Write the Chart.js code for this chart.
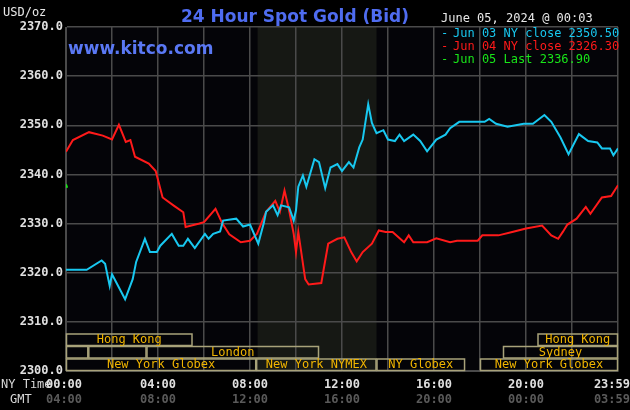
<!DOCTYPE html>
<html>
<head>
<meta charset="utf-8">
<script src="https://cdn.jsdelivr.net/npm/chart.js@4"></script>
<style>
  html, body { margin: 0; padding: 0; background: #000; }
  #wrap { width: 630px; height: 410px; position: relative; }
</style>
</head>
<body>
<div id="wrap"><canvas id="goldChart" width="630" height="410"></canvas></div>
<script>

// hours since 00:00 NY time, and bid prices
const jun03Hours = [0, 0.9, 1.55, 1.7, 1.9, 2.0, 2.57, 2.9, 3.05, 3.43, 3.65, 3.95, 4.1, 4.6, 4.9, 5.1, 5.3, 5.6, 6.04, 6.2, 6.4, 6.7, 6.83, 7.4, 7.7, 8.0, 8.36, 8.6, 8.7, 9.0, 9.2, 9.35, 9.7, 9.9, 10.0, 10.1, 10.3, 10.45, 10.8, 11.0, 11.27, 11.5, 11.8, 12.0, 12.3, 12.5, 12.75, 12.9, 13.14, 13.3, 13.5, 13.8, 14.0, 14.3, 14.5, 14.7, 15.1, 15.4, 15.7, 16.1, 16.5, 16.7, 17.1, 18.2, 18.4, 18.7, 19.2, 19.9, 20.3, 20.8, 21.1, 21.5, 21.85, 22.3, 22.7, 23.1, 23.3, 23.65, 23.8, 24.0];
const jun03Values = [2320.6, 2320.6, 2322.5, 2321.8, 2317.3, 2319.7, 2314.6, 2318.7, 2322.2, 2326.9, 2324.2, 2324.2, 2325.5, 2327.9, 2325.5, 2325.5, 2326.9, 2325.0, 2327.9, 2326.9, 2327.9, 2328.4, 2330.6, 2331.0, 2329.4, 2329.8, 2325.9, 2330.1, 2332.4, 2333.7, 2331.7, 2333.7, 2333.3, 2330.6, 2332.7, 2337.5, 2339.8, 2337.5, 2343.1, 2342.5, 2337.2, 2341.4, 2342.1, 2340.7, 2342.5, 2341.4, 2345.5, 2347.1, 2354.3, 2350.5, 2348.4, 2349.0, 2347.1, 2346.8, 2348.1, 2346.8, 2348.1, 2346.8, 2344.7, 2347.1, 2348.1, 2349.4, 2350.7, 2350.7, 2351.3, 2350.3, 2349.7, 2350.3, 2350.3, 2352.1, 2350.7, 2347.5, 2344.1, 2348.2, 2346.8, 2346.5, 2345.3, 2345.3, 2343.9, 2345.3];

const jun04Hours = [0, 0.3, 1.0, 1.6, 2.0, 2.3, 2.6, 2.8, 3.0, 3.6, 3.9, 4.2, 4.7, 5.1, 5.2, 5.8, 6.0, 6.5, 6.8, 7.1, 7.6, 8.0, 8.3, 8.45, 8.7, 9.1, 9.3, 9.5, 9.7, 9.9, 10.0, 10.1, 10.4, 10.55, 11.1, 11.2, 11.4, 11.8, 12.1, 12.4, 12.64, 12.9, 13.3, 13.6, 13.9, 14.2, 14.7, 14.9, 15.1, 15.7, 16.1, 16.7, 17.0, 17.9, 18.1, 18.8, 19.4, 20.0, 20.7, 21.1, 21.4, 21.6, 21.8, 22.2, 22.6, 22.8, 23.3, 23.7, 24.0];
const jun04Values = [2344.6, 2347.0, 2348.6, 2347.9, 2347.1, 2350.1, 2346.6, 2347.0, 2343.6, 2342.2, 2340.7, 2335.3, 2333.6, 2332.3, 2329.3, 2330.0, 2330.3, 2333.0, 2330.0, 2327.8, 2326.2, 2326.5, 2327.9, 2329.6, 2332.4, 2334.6, 2332.4, 2336.7, 2332.7, 2327.9, 2324.2, 2328.3, 2318.7, 2317.6, 2317.9, 2320.6, 2325.9, 2326.9, 2327.2, 2324.2, 2322.3, 2324.2, 2325.9, 2328.6, 2328.3, 2328.3, 2326.2, 2327.6, 2326.2, 2326.2, 2327.0, 2326.2, 2326.5, 2326.5, 2327.6, 2327.6, 2328.3, 2329.0, 2329.6, 2327.6, 2326.9, 2328.3, 2329.8, 2331.0, 2333.4, 2332.0, 2335.3, 2335.6, 2337.8];

const jun05Hours = [0, 0.05];
const jun05Values = [2338.0, 2337.3];

const legendLabels = ['Jun 03 NY close 2350.50', 'Jun 04 NY close 2326.30', 'Jun 05 Last 2336.90'];
const nyTimeLabels = ['00:00', '04:00', '08:00', '12:00', '16:00', '20:00', '23:59'];
const gmtLabels = ['04:00', '08:00', '12:00', '16:00', '20:00', '00:00', '03:59'];
const labelHours = [0, 4, 8, 12, 16, 20, 24];

// trading sessions: [row, start hour, end hour, name]
const sessions = [
  [0, 0, 5.5, 'Hong Kong'],
  [0, 20.5, 24, 'Hong Kong'],
  [1, 0, 0.97, ''],
  [1, 0.97, 3.5, ''],
  [1, 3.5, 11, 'London'],
  [1, 19, 24, 'Sydney'],
  [2, 0, 8.27, 'New York Globex'],
  [2, 8.27, 13.5, 'New York NYMEX'],
  [2, 13.5, 17.35, 'NY Globex'],
  [2, 18, 24, 'New York Globex']
];
const nymexShade = [8.33, 13.5];

function toPoints(xs, ys) {
  return xs.map((x, i) => ({ x: x, y: ys[i] }));
}

const MONO = '"DejaVu Sans Mono", monospace';

// background + NYMEX shading
const backdrop = {
  id: 'backdrop',
  beforeDraw(chart) {
    const ctx = chart.ctx;
    const a = chart.chartArea;
    const xs = chart.scales.x;
    ctx.save();
    ctx.fillStyle = '#000';
    ctx.fillRect(0, 0, chart.width, chart.height);
    ctx.fillStyle = '#040408';
    ctx.fillRect(a.left, a.top, a.right - a.left, a.bottom - a.top);
    const x1 = xs.getPixelForValue(nymexShade[0]);
    const x2 = xs.getPixelForValue(nymexShade[1]);
    ctx.fillStyle = '#161814';
    ctx.fillRect(x1, a.top, x2 - x1, a.bottom - a.top);
    ctx.restore();
  }
};

// texts, session boxes and time labels
const overlay = {
  id: 'overlay',
  afterDraw(chart) {
    const ctx = chart.ctx;
    const xs = chart.scales.x;
    const ys = chart.scales.y;
    ctx.save();

    // session boxes in the bottom band
    const rowBottom = ys.getPixelForValue(2300);
    const rowH = 12.5;
    sessions.forEach((s) => {
      const top = rowBottom - (3 - s[0]) * rowH;
      const x1 = xs.getPixelForValue(s[1]);
      const x2 = xs.getPixelForValue(s[2]);
      ctx.strokeStyle = '#a8a27a';
      ctx.lineWidth = 1.5;
      ctx.strokeRect(x1 + 0.5, top + 0.5, x2 - x1 - 1, rowH - 1);
      if (s[3]) {
        ctx.fillStyle = '#f0b400';
        ctx.font = '12px ' + MONO;
        ctx.textAlign = 'center';
        ctx.textBaseline = 'middle';
        ctx.fillText(s[3], (x1 + x2) / 2, top + rowH / 2 + 0.5);
      }
    });

    // title + headers
    ctx.textBaseline = 'alphabetic';
    ctx.textAlign = 'center';
    ctx.fillStyle = '#4f6cf0';
    ctx.font = 'bold 17px "DejaVu Sans", sans-serif';
    ctx.fillText('24 Hour Spot Gold (Bid)', 295, 22);
    ctx.textAlign = 'left';
    ctx.font = 'bold 17px "DejaVu Sans", sans-serif';
    ctx.fillStyle = '#5a78f4';
    ctx.fillText('www.kitco.com', 68, 54);
    ctx.font = '12px ' + MONO;
    ctx.fillStyle = '#e8e8e8';
    ctx.fillText('USD/oz', 3, 16);
    ctx.fillText('June 05, 2024 @ 00:03', 441, 22);

    // legend
    const colors = ['#18c8f0', '#ff1a1a', '#19e619'];
    legendLabels.forEach((t, i) => {
      ctx.fillStyle = colors[i];
      ctx.fillText('-', 441, 37 + i * 13);
      ctx.fillText(t, 453, 37 + i * 13);
    });

    // time labels
    ctx.font = 'bold 12px ' + MONO;
    ctx.fillStyle = '#d8d8d8';
    ctx.font = '12px ' + MONO;
    ctx.fillText('NY Time', 1, 388);
    ctx.fillText('GMT', 10, 403);
    labelHours.forEach((h, i) => {
      const x = xs.getPixelForValue(h);
      ctx.textAlign = i === labelHours.length - 1 ? 'right' : 'center';
      const px = i === 0 ? x - 2 : (i === labelHours.length - 1 ? x + 12 : x);
      ctx.font = 'bold 12px ' + MONO;
      ctx.fillStyle = '#e0e0e0';
      ctx.fillText(nyTimeLabels[i], px, 388);
      ctx.fillStyle = '#5a5a5a';
      ctx.fillText(gmtLabels[i], px, 403);
    });
    ctx.restore();
  }
};

new Chart(document.getElementById('goldChart'), {
  type: 'line',
  data: {
    datasets: [{
      data: toPoints(jun03Hours, jun03Values),
      borderColor: '#18c8f0',
      borderWidth: 2,
      pointRadius: 0,
      tension: 0
    }, {
      data: toPoints(jun04Hours, jun04Values),
      borderColor: '#ff1a1a',
      borderWidth: 2,
      pointRadius: 0,
      tension: 0
    }, {
      data: toPoints(jun05Hours, jun05Values),
      borderColor: '#19e619',
      borderWidth: 2,
      pointRadius: 0,
      tension: 0
    }]
  },
  options: {
    responsive: false,
    animation: false,
    layout: { padding: { top: 27, right: 12, bottom: 0, left: 0 } },
    plugins: { legend: { display: false }, tooltip: { enabled: false } },
    scales: {
      x: {
        type: 'linear',
        min: 0,
        max: 24,
        ticks: { stepSize: 2, display: false },
        grid: { color: '#4a4a4a', lineWidth: 1.5, drawTicks: false },
        border: { color: '#4a4a4a' },
        afterFit(scale) { scale.height = 39; }
      },
      y: {
        min: 2300,
        max: 2370,
        ticks: {
          stepSize: 10,
          color: '#e0e0e0',
          font: { family: MONO, size: 12, weight: 'bold' },
          padding: 3,
          callback: (v) => v.toFixed(1)
        },
        grid: { color: '#4a4a4a', lineWidth: 1.5, drawTicks: false },
        border: { color: '#4a4a4a' },
        afterFit(scale) { scale.width = 66; }
      }
    }
  },
  plugins: [backdrop, overlay]
});
</script>
</body>
</html>
